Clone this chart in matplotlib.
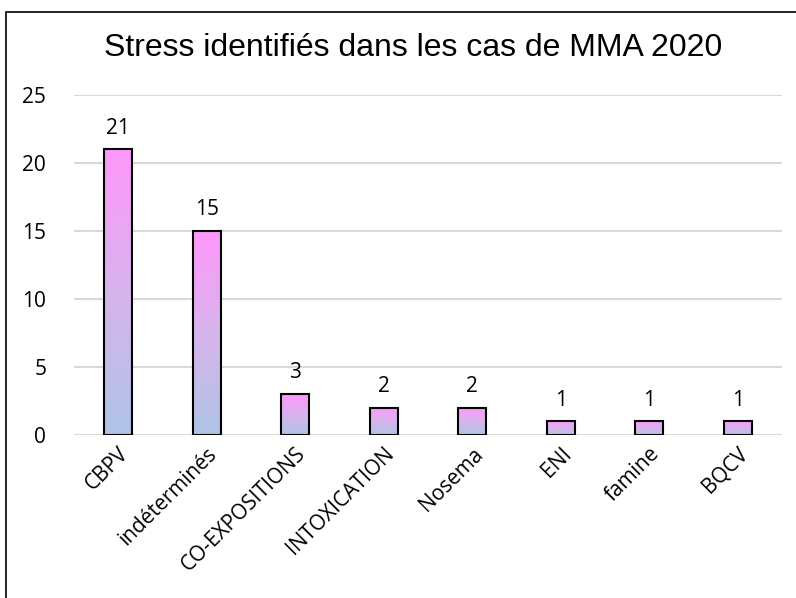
import numpy as np
import matplotlib.pyplot as plt
from matplotlib.colors import LinearSegmentedColormap
from matplotlib.patches import Rectangle

# === données ===
categories = ["CBPV", "indéterminés", "CO-EXPOSITIONS", "INTOXICATION",
              "Nosema", "ENI", "famine", "BQCV"]
values = [21, 15, 3, 2, 2, 1, 1, 1]
yticks = [0, 5, 10, 15, 20, 25]

fig = plt.figure(figsize=(7.96, 5.98), dpi=100)
ax = fig.add_axes([74 / 796, 1 - 435 / 598, 708 / 796, 340 / 598])

# cadre noir autour du graphique
fig.patches.append(Rectangle((6 / 796, -0.1), 2, 1 - 12 / 598 + 0.1,
                             transform=fig.transFigure, fill=False,
                             edgecolor="black", linewidth=1.2))

cmap = LinearSegmentedColormap.from_list("pinkblue", ["#aec4e6", "#d7b4ec", "#ff97fb"])
grad = np.linspace(0, 1, 256).reshape(-1, 1)

x = np.arange(len(categories))
bars = ax.bar(x, values, width=0.32, color="none", edgecolor="black",
              linewidth=1.5, zorder=3)
for b, v in zip(bars, values):
    x0, w = b.get_x(), b.get_width()
    im = ax.imshow(grad, cmap=cmap, aspect="auto", origin="lower",
                   extent=(x0, x0 + w, 0, v), zorder=2)
    im.set_clip_path(b)
    ax.text(x0 + w / 2, v + 0.8, str(v), ha="center", va="bottom",
            fontsize=15, family="Open Sans")

ax.set_xlim(-0.5, len(categories) - 0.5)
ax.set_ylim(0, 25)
ax.set_yticks(yticks)
ax.yaxis.grid(True, color="#d9d9d9", linewidth=1.5, zorder=0)
ax.set_axisbelow(True)
for s in ax.spines.values():
    s.set_visible(False)
ax.tick_params(axis="both", length=0, labelsize=15)
ax.tick_params(axis="y", pad=20)
ax.tick_params(axis="x", pad=6)
ax.set_xticks(x)
ax.set_xticklabels(categories, rotation=45, ha="right", rotation_mode="anchor",
                   family="Open Sans")
for lab in ax.get_yticklabels():
    lab.set_family("Open Sans")

fig.text(413 / 796, 1 - 48 / 598, "Stress identifiés dans les cas de MMA 2020",
         ha="center", va="center", fontsize=23, family="Liberation Sans")

fig.savefig("out.png", dpi=100)
